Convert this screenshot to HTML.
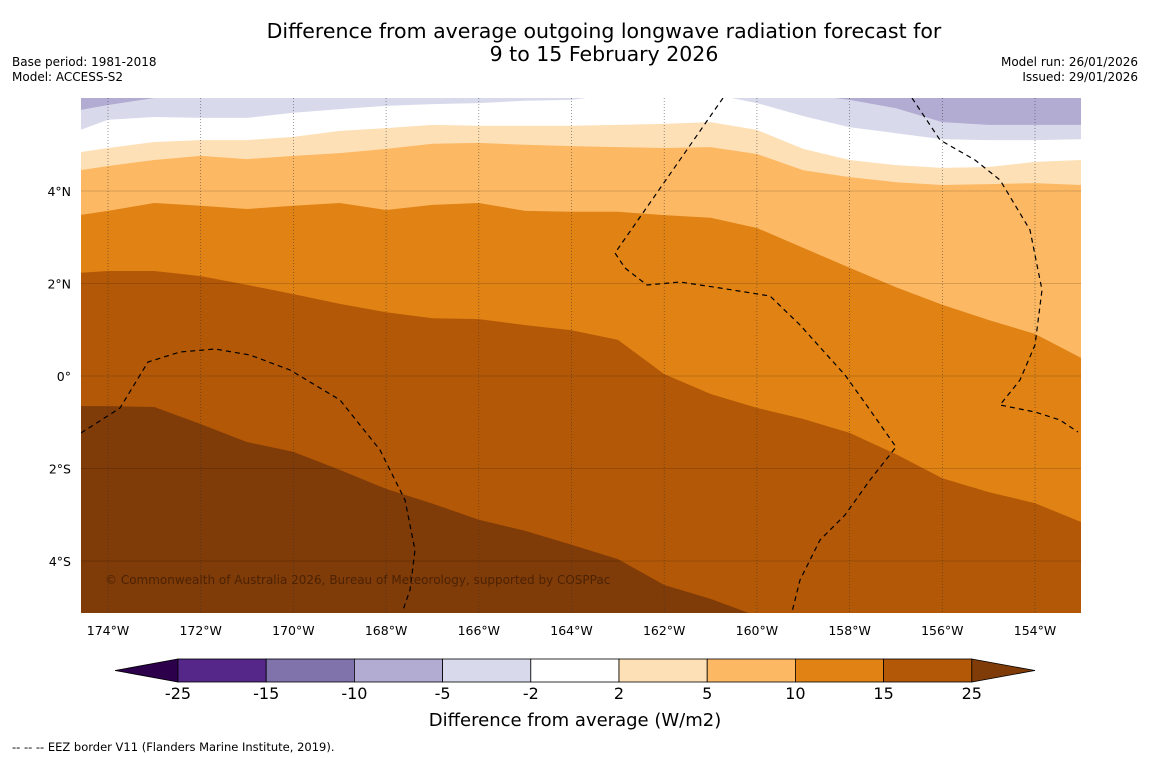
<!DOCTYPE html>
<html><head><meta charset="utf-8">
<style>
body{margin:0;background:#fff;width:1150px;height:758px;overflow:hidden;font-family:"DejaVu Sans","Liberation Sans",sans-serif;}
svg{position:absolute;left:0;top:0;font-family:"DejaVu Sans","Liberation Sans",sans-serif;}
</style></head>
<body>
<svg id="c" width="1150" height="758">
<text x="604" y="38" text-anchor="middle" font-size="20.5">Difference from average outgoing longwave radiation forecast for</text>
<text x="604" y="61" text-anchor="middle" font-size="20.5">9 to 15 February 2026</text>
<text x="12" y="66" font-size="12">Base period: 1981-2018</text>
<text x="12" y="81" font-size="12">Model: ACCESS-S2</text>
<text x="1138" y="66" font-size="12" text-anchor="end">Model run: 26/01/2026</text>
<text x="1138" y="81" font-size="12" text-anchor="end">Issued: 29/01/2026</text>
<defs><clipPath id="mc"><rect x="81" y="98" width="1000" height="515"/></clipPath></defs>
<g id="map" clip-path="url(#mc)"></g>
<g id="axes"></g>
<g id="cbar"></g>
<text x="575" y="726" text-anchor="middle" font-size="18">Difference from average (W/m2)</text>
<text x="12" y="751" font-size="11.5">--  --  -- EEZ border V11 (Flanders Marine Institute, 2019).</text>
</svg>
<script>
const lons=[-174.6,-174,-173,-172,-171,-170,-169,-168,-167,-166,-165,-164,-163,-162,-161,-160,-159,-158,-157,-156,-155,-154,-153];
const line25=[-0.65,-0.65,-0.67,-1.04,-1.43,-1.64,-2.03,-2.44,-2.76,-3.11,-3.35,-3.65,-3.96,-4.52,-4.82,-5.19,-5.6,-5.6,-5.6,-5.6,-5.6,-5.6,-5.6];
const line15=[2.23,2.27,2.27,2.16,1.97,1.77,1.56,1.38,1.25,1.23,1.10,0.99,0.78,0.04,-0.39,-0.69,-0.93,-1.23,-1.69,-2.21,-2.51,-2.75,-3.16];
const line10=[3.48,3.57,3.74,3.68,3.61,3.68,3.74,3.59,3.70,3.74,3.57,3.55,3.55,3.48,3.42,3.20,2.77,2.34,1.92,1.54,1.21,0.91,0.39];
const line5=[4.45,4.54,4.67,4.76,4.69,4.76,4.82,4.91,5.02,5.04,5.0,4.97,4.95,4.93,4.95,4.80,4.45,4.30,4.19,4.13,4.15,4.17,4.13];
const line2=[4.84,4.93,5.06,5.10,5.10,5.17,5.30,5.36,5.43,5.41,5.41,5.41,5.43,5.45,5.49,5.32,4.91,4.67,4.56,4.50,4.52,4.63,4.67];
const lineM2=[5.32,5.54,5.60,5.58,5.58,5.69,5.77,5.84,5.88,5.90,5.95,5.97,6.1,6.1,6.1,5.90,5.62,5.38,5.25,5.12,5.10,5.10,5.12];
const lineM5=[5.75,5.86,6.01,6.1,6.1,6.1,6.1,6.1,6.1,6.1,6.1,6.1,6.1,6.1,6.1,6.1,6.1,5.97,5.79,5.49,5.43,5.43,5.43];
const levels=[line25,line15,line10,line5,line2,lineM2,lineM5];
const levelColors=['#b35806','#e08214','#fdb863','#fee0b6','#ffffff','#d8daeb','#b2abd2'];
const lonTicks=[-174,-172,-170,-168,-166,-164,-162,-160,-158,-156,-154];
const latTicks=[4,2,0,-2,-4];
const cbLabels=['-25','-15','-10','-5','-2','2','5','10','15','25'];
const cbColors=['#542788','#8073ac','#b2abd2','#d8daeb','#ffffff','#fee0b6','#fdb863','#e08214','#b35806'];
const NS='http://www.w3.org/2000/svg';
const X=l=>108+(l+174)*46.35, Y=a=>376-a*46.25;
function mk(t,at,p){const e=document.createElementNS(NS,t);for(const k in at)e.setAttribute(k,at[k]);p.appendChild(e);return e;}
const map=document.getElementById('map');
let bg=mk('rect',{x:81,y:98,width:1000,height:515,fill:'#7f3b08'},map);


levels.forEach((ln,i)=>{
 let d='M'+X(lons[0])+','+Y(ln[0]);
 for(let j=1;j<lons.length;j++)d+=' L'+X(lons[j]).toFixed(1)+','+Y(ln[j]).toFixed(1);
 d+=' L1090,90 L70,90 Z';
 const p=mk('path',{d:d,fill:levelColors[i]},map);
 
 
});
lonTicks.forEach(l=>{const g=mk('line',{x1:X(l),x2:X(l),y1:98,y2:613,stroke:'#333','stroke-width':0.7,'stroke-dasharray':'1,2',opacity:0.7},map);
 
 });
latTicks.forEach(a=>{const g=mk('line',{x1:81,x2:1081,y1:Y(a),y2:Y(a),stroke:'#000','stroke-width':0.6,opacity:0.3},map);
 
 });
['M723,98 L615,253 L625,268 L647,285 L680,282 L720,288 L770,296 L800,325 L845,375 L870,410 L896,447 L870,480 L845,515 L820,540 L800,580 L792,612',
 'M912,98 L940,140 L975,160 L1000,180 L1030,230 L1042,290 L1035,345 L1020,380 L1000,405 L1035,412 L1060,420 L1078,432',
 'M81,433 L120,408 L148,362 L180,352 L215,349 L250,355 L290,370 L340,400 L380,450 L405,500 L415,550 L410,590 L403,610'].forEach(d=>{
 const p=mk('path',{d:d,fill:'none',stroke:'#000','stroke-width':1.2,'stroke-dasharray':'5,4'},map);
 
 });
const cr=mk('text',{x:105,y:584,'font-size':12,fill:'#3a1a00',opacity:0.75},map);
cr.textContent='© Commonwealth of Australia 2026, Bureau of Meteorology, supported by COSPPac';


const ax=document.getElementById('axes');
lonTicks.forEach(l=>{const t=mk('text',{x:X(l),y:635,'text-anchor':'middle','font-size':12.5},ax);t.textContent=Math.abs(l)+'°W';
 
 });
latTicks.forEach(a=>{const t=mk('text',{x:71,y:Y(a)+5,'text-anchor':'end','font-size':12.5},ax);t.textContent=a===0?'0°':Math.abs(a)+(a>0?'°N':'°S');
 
 });
const cb=document.getElementById('cbar');
const cx0=178,cw=88.2,cy=659,ch=23;
let tl=mk('polygon',{points:`115,${cy+ch/2} ${cx0},${cy} ${cx0},${cy+ch}`,fill:'#2d004b',stroke:'#000','stroke-width':0.8},cb);


cbColors.forEach((c,i)=>{const r=mk('rect',{x:cx0+i*cw,y:cy,width:cw,height:ch,fill:c,stroke:'#000','stroke-width':0.8},cb);
 
 });
const xe=cx0+cbColors.length*cw;
let tr=mk('polygon',{points:`${xe},${cy} 1035,${cy+ch/2} ${xe},${cy+ch}`,fill:'#7f3b08',stroke:'#000','stroke-width':0.8},cb);


cbLabels.forEach((s,i)=>{const t=mk('text',{x:cx0+i*cw,y:699,'text-anchor':'middle','font-size':16},cb);t.textContent=s;
 
 });
</script>
</body></html>
